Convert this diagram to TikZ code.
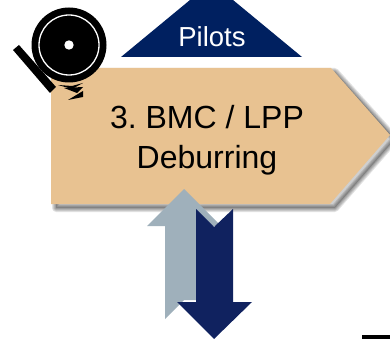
\documentclass[tikz,border=0pt]{standalone}
\usepackage{fontspec}
\setmainfont{Liberation Sans}
\usepackage{xcolor}
\definecolor{tanfill}{HTML}{E8C291}
\definecolor{pilotblue}{HTML}{002060}
\definecolor{downblue}{HTML}{10225F}
\definecolor{upgray}{HTML}{9FB0BB}
\tikzset{lbl/.style={align=center,inner sep=0pt,font=\fontsize{32}{40}\selectfont\frenchspacing},
    pilotlbl/.style={white,inner sep=0pt,font=\fontsize{27.5}{30}\selectfont},
    chip/.style={black,fill=black,draw=none}}

\begin{document}
\begin{tikzpicture}[x=1pt,y=-1pt]
    \useasboundingbox (0,0) rectangle (390,339);

    \fill[pilotblue] (121,57) -- (190,0) -- (233,0) -- (302,57) -- cycle;
    \node[pilotlbl] (pilots)at (212,37) {Pilots};

    % soft shadow under the box
    \foreach \w in {8,6,4,2}
        \filldraw[black,fill opacity=0.05,draw opacity=0.11,line width=\w pt,line join=round] (56,72) -- (335,72) -- (395,139) -- (335,208) -- (56,208) -- cycle;
    \fill[tanfill] (51,68) -- (331,68) -- (390,135) -- (330,204) -- (51,204) -- cycle;
    \node[lbl] (title)at (207,140) {3. BMC / LPP\\Deburring};

    \fill[upgray] (184,189) -- (221,226) -- (203,226) -- (203,300) -- (184,300) -- (165,319) -- (165,226) -- (147,226) -- cycle;
    \fill[downblue] (196,209) -- (214,227) -- (233,209) -- (233,302) -- (252,302) -- (214,339) -- (177,302) -- (196,302) -- cycle;

    \fill[black] (69,45) circle (37.5);
    \draw[white,line width=1.3pt] (69,45) circle (30);
    \fill[white] (69,45) circle (4.7);
    \fill[black] (13,50) -- (19,45) -- (56,87) -- (50,93) -- cycle;
    \fill[chip] (58,85) -- (72,86) -- (83,83) -- (72,89) -- cycle;
    \fill[chip] (64,88) -- (83,87) -- (77,93) -- cycle;
    \fill[chip] (68,100) -- (83,91) -- (83,97) -- cycle;

    \fill[black] (362,335) rectangle (390,339);
\end{tikzpicture}
\end{document}
